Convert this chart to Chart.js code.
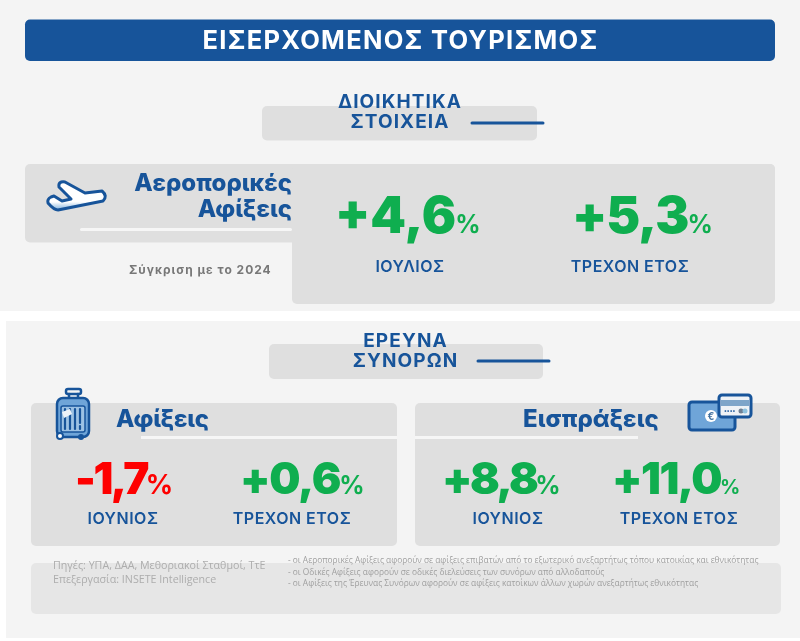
<!DOCTYPE html>
<html lang="el"><head><meta charset="utf-8">
<style>html,body{margin:0;padding:0;background:#fff}canvas{display:block}</style>
<script src="https://cdn.jsdelivr.net/npm/chart.js@4"></script>
</head><body><canvas id="c" width="800" height="641"></canvas>
<script>
// ---- data ----
const kpiPeriods = ["ΙΟΥΛΙΟΣ","ΤΡΕΧΟΝ ΕΤΟΣ","ΙΟΥΝΙΟΣ","ΤΡΕΧΟΝ ΕΤΟΣ","ΙΟΥΝΙΟΣ","ΤΡΕΧΟΝ ΕΤΟΣ"];
const kpiValues = [4.6,5.3,-1.7,0.6,8.8,11.0];
const titleText = "ΕΙΣΕΡΧΟΜΕΝΟΣ ΤΟΥΡΙΣΜΟΣ";
const section1 = ["ΔΙΟΙΚΗΤΙΚΑ","ΣΤΟΙΧΕΙΑ"];
const section2 = ["ΕΡΕΥΝΑ","ΣΥΝΟΡΩΝ"];
const heading1 = ["Αεροπορικές","Αφίξεις"];
const heading2 = "Αφίξεις";
const heading3 = "Εισπράξεις";
const compareNote = "Σύγκριση με το 2024";
const sources = ["Πηγές: ΥΠΑ, ΔΑΑ, Μεθοριακοί Σταθμοί, ΤτΕ","Επεξεργασία: INSETE Intelligence"];
const notes = ["- οι Αεροπορικές Αφίξεις αφορούν σε αφίξεις επιβατών από το εξωτερικό ανεξαρτήτως τόπου κατοικίας και εθνικότητας",
 "- οι Οδικές Αφίξεις αφορούν σε οδικές διελεύσεις των συνόρων από αλλοδαπούς",
 "- οι Αφίξεις της Έρευνας Συνόρων αφορούν σε αφίξεις κατοίκων άλλων χωρών ανεξαρτήτως εθνικότητας"];

// ---- layout ----
const BLUE="#17549a",GREEN="#0fae4f",RED="#fe0000",PANEL="#dfdfdf",BG="#f4f4f4";
const FONT='Inter, "Noto Sans", sans-serif';
const kpiLayout=[
 {x:335,base:233,size:51,sp:0,pct:25,lx:410,ly:267,ls:16},
 {x:572,base:233,size:51,sp:-1,pct:25,lx:630,ly:267,ls:16},
 {x:75,base:494,size:44,sp:-2.5,pct:27,lx:123,ly:519,ls:16},
 {x:240,base:494,size:44,sp:-1.2,pct:25,lx:292,ly:519,ls:16},
 {x:442,base:494,size:44,sp:-2.5,pct:25,lx:508,ly:519,ls:16},
 {x:612,base:494,size:44,sp:-1.5,pct:20,lx:679,ly:519,ls:16}];

function rr(c,x,y,w,h,r,f){c.beginPath();c.roundRect(x,y,w,h,r);c.fillStyle=f;c.fill();}
function txt(c,s,x,y,font,col,al,sp){c.font=font;c.fillStyle=col;c.textAlign=al||"left";c.textBaseline="alphabetic";c.letterSpacing=(sp||0)+"px";c.fillText(s,x,y);c.letterSpacing="0px";}
function rule(c,x1,x2,y,w,col){c.beginPath();c.moveTo(x1,y);c.lineTo(x2,y);c.lineWidth=w;c.lineCap="round";c.strokeStyle=col;c.stroke();}

function plane(c){
 c.beginPath();
 c.moveTo(48,203);c.quadraticCurveTo(47,199,51,197);c.lineTo(54,196);c.lineTo(62,201);c.lineTo(71,199);
 c.lineTo(59,187);c.quadraticCurveTo(58,181,65,182);c.lineTo(85,193);c.lineTo(102,191);c.quadraticCurveTo(108,196,103,201);
 c.lineTo(58,210);c.quadraticCurveTo(54,210,48,203);c.closePath();
 const g=c.createLinearGradient(0,183,0,210);g.addColorStop(0,"#fff");g.addColorStop(.7,"#fff");g.addColorStop(1,"#7fb0dc");
 c.fillStyle=g;c.fill();c.lineWidth=3;c.lineJoin="round";c.strokeStyle=BLUE;c.stroke();
}
function suitcase(c){
 c.strokeStyle=BLUE;c.lineWidth=2.5;c.lineJoin="round";
 c.beginPath();c.roundRect(66,389,15,5,2);c.stroke();
 c.beginPath();c.moveTo(69,394);c.lineTo(69,398);c.moveTo(78,394);c.lineTo(78,398);c.stroke();
 c.beginPath();c.roundRect(57,398,32,39,6);c.fillStyle="#6fa5d8";c.fill();c.stroke();
 c.beginPath();c.roundRect(61,406,24,26,2);c.fillStyle="#9cc2e4";c.fill();c.lineWidth=1.5;c.stroke();
 c.lineWidth=2.2;c.beginPath();[65,70,75,80].forEach((x,i)=>{c.moveTo(x,409);c.lineTo(x,i==3?423:429);});c.moveTo(80,426);c.lineTo(80,429);c.stroke();
 c.beginPath();c.moveTo(62,412);c.lineTo(70,409);c.lineTo(72,414);c.lineTo(64,418);c.closePath();c.fillStyle="#eef3f8";c.fill();
 c.fillStyle="#fff";c.lineWidth=2;c.beginPath();c.arc(60,436,3,0,7);c.fill();c.stroke();
 c.fillStyle=BLUE;c.beginPath();c.arc(81,437,3,0,7);c.fill();
}
function cards(c){
 c.strokeStyle=BLUE;c.lineWidth=3;c.lineJoin="round";
 c.beginPath();c.roundRect(689,402,46,28,3);c.fillStyle="#6fa5d8";c.fill();c.stroke();
 c.beginPath();c.arc(711,416,6,0,7);c.fillStyle="#fff";c.fill();
 txt(c,"€",711,420,'bold 10px '+FONT,"#3f6f9e","center");
 c.beginPath();c.roundRect(719,395,32,22,3);c.fillStyle="#eef2f6";c.fill();c.stroke();
 c.fillStyle="#7ea5c9";c.fillRect(721,400,28,6);
 txt(c,"••••",724,413,'bold 6px '+FONT,BLUE,"left");
 c.beginPath();c.arc(741,411,2.5,0,7);c.fillStyle="#6d7f93";c.fill();
 c.beginPath();c.arc(745,411,2.5,0,7);c.fillStyle="#8ec2df";c.fill();
}
function fmt(v){return (v>0?"+":v<0?"-":"")+Math.abs(v).toFixed(1).replace(".",",");}

const page={id:"page",
 beforeDraw(chart){
  const c=chart.ctx;c.save();
  c.fillStyle="#fff";c.fillRect(0,0,800,641);
  c.fillStyle=BG;c.fillRect(0,0,800,311);c.fillRect(6,321,794,317);
  rr(c,25,19.5,750,41.5,5,BLUE);
  rr(c,262,106,275,34.5,5,PANEL);
  c.beginPath();c.roundRect(25,164,750,78.5,5);c.fillStyle=PANEL;c.fill();
  rr(c,292,164,483,140,5,PANEL);
  rr(c,80,228,212,3,1.5,"#f6f6f6");
  rr(c,269,344,274,35,5,PANEL);
  rr(c,31,403,366,143,5,PANEL);
  rr(c,415,403,365,143,5,PANEL);
  rr(c,141,436,256,3,0,"#f6f6f6");
  rr(c,415,436,223,3,0,"#f6f6f6");
  rr(c,31,563,750,51,5,"#e6e6e6");
  c.restore();
 },
 afterDraw(chart){
  const c=chart.ctx;c.save();
  txt(c,titleText,400.5,49,'700 25.5px '+FONT,"#fff","center",1.3);
  txt(c,section1[0],400,108,'700 19px '+FONT,BLUE,"center",1.1);
  txt(c,section1[1],400,128,'700 19px '+FONT,BLUE,"center",1.1);
  rule(c,472,543,123,3,BLUE);
  txt(c,section2[0],405.5,347,'700 19px '+FONT,BLUE,"center",1.1);
  txt(c,section2[1],405.5,367,'700 19px '+FONT,BLUE,"center",1.1);
  rule(c,478,549,361,3,BLUE);
  txt(c,heading1[0],292,191,'800 24px '+FONT,BLUE,"right");
  txt(c,heading1[1],292,217,'800 24px '+FONT,BLUE,"right");
  txt(c,heading2,116,427,'800 24px '+FONT,BLUE,undefined,-.2);
  txt(c,heading3,523,427,'800 24px '+FONT,BLUE);
  txt(c,compareNote,129,274,'700 12px '+FONT,"#777",undefined,1);
  const vals=chart.data.datasets[0].data,labs=chart.data.labels;
  vals.forEach((v,i)=>{
   const L=kpiLayout[i],col=v<0?RED:GREEN,s=fmt(v);
   txt(c,s,L.x,L.base,'900 '+L.size+'px '+FONT,col,undefined,L.sp);
   c.letterSpacing=L.sp+"px";c.font='900 '+L.size+'px '+FONT;
   const w=c.measureText(s).width;c.letterSpacing="0px";
   txt(c,"%",L.x+w+1-2,L.base,'700 '+L.pct+'px '+FONT,col);
   txt(c,labs[i],L.lx,L.ly+5,'600 '+L.ls+'px '+FONT,BLUE,"center",.5);
  });
  txt(c,sources[0],53,568.5,'10.7px "Open Sans"',"#adadad");
  txt(c,sources[1],53,583,'10.7px "Open Sans"',"#adadad");
  notes.forEach((n,i)=>txt(c,n,288,[563,574.5,586][i],'8.35px "Open Sans"',"#9f9f9f"));
  plane(c);suitcase(c);cards(c);
  c.restore();
 }};

new Chart(document.getElementById("c"),{
 type:"bar",
 data:{labels:kpiPeriods,datasets:[{label:"Μεταβολή %",data:kpiValues,backgroundColor:"transparent"}]},
 options:{responsive:false,animation:false,devicePixelRatio:1,
  layout:{padding:0},
  events:[],
  plugins:{legend:{display:false},tooltip:{enabled:false},title:{display:false}},
  scales:{x:{display:false},y:{display:false}}},
 plugins:[page]});
</script></body></html>
